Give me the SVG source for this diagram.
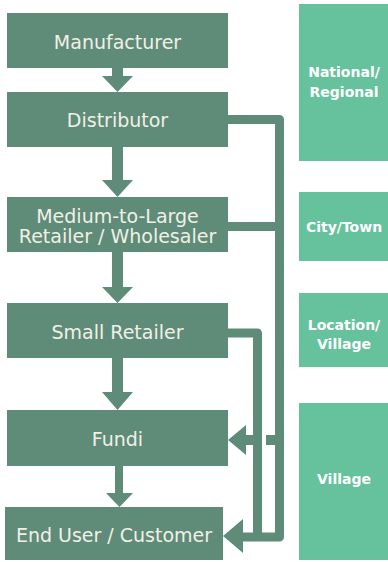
<svg xmlns="http://www.w3.org/2000/svg" width="388" height="562" viewBox="0 0 388 562">
<style>
.node{fill:#5E8C78}
.lvl{fill:#66C29D}
.t{font-family:"DejaVu Sans",sans-serif;font-size:19px;fill:#F2F0E6;text-anchor:middle}
.lt{font-family:"DejaVu Sans",sans-serif;font-weight:bold;font-size:14px;fill:#FFFFFF;text-anchor:middle}
.c{fill:#5E8C78}
.line{fill:none;stroke:#5E8C78;stroke-width:9;stroke-linejoin:round}
</style>
<rect width="388" height="562" fill="#FFFFFF"/>
<g id="connectors">
  <polygon class="c" points="112,68 123,68 123,76 133,76 117.5,92 102,76 112,76"/>
  <polygon class="c" points="112,147 123,147 123,180 133,180 117.5,197 102,180 112,180"/>
  <polygon class="c" points="112,252 123,252 123,287 133,287 117.5,303 102,287 112,287"/>
  <polygon class="c" points="112,358 123,358 123,392 133,392 117.5,410 102,392 112,392"/>
  <polygon class="c" points="115,466 123,466 123,493 133,493 119.5,507 106,493 115,493"/>
  <path class="line" d="M228 119.5 H279.5 V537 H242"/>
  <path class="line" d="M228 226.5 H279.5"/>
  <path class="line" d="M228 333 H257.5 V537"/>
  <rect class="c" x="244" y="435" width="10" height="10"/>
  <rect class="c" x="266" y="435" width="10" height="10"/>
  <polygon class="c" points="228,440 246,425 246,455"/>
  <polygon class="c" points="223,536 243,519 243,553"/>
</g>
<g id="manufacturer"><rect class="node" x="7" y="13" width="221" height="55"/><text class="t" x="117.5" y="49">Manufacturer</text></g>
<g id="distributor"><rect class="node" x="7" y="92" width="221" height="55"/><text class="t" x="117.5" y="127">Distributor</text></g>
<g id="wholesaler"><rect class="node" x="7" y="197" width="221" height="55"/><text class="t" x="117.5" y="223">Medium-to-Large</text><text class="t" x="117.5" y="243">Retailer / Wholesaler</text></g>
<g id="small-retailer"><rect class="node" x="7" y="303" width="221" height="55"/><text class="t" x="117.5" y="339">Small Retailer</text></g>
<g id="fundi"><rect class="node" x="7" y="410" width="221" height="56"/><text class="t" x="117.5" y="446">Fundi</text></g>
<g id="end-user"><rect class="node" x="5" y="507" width="218" height="53"/><text class="t" x="114" y="542">End User / Customer</text></g>
<g id="level-national"><rect class="lvl" x="299" y="4" width="89" height="157"/><text class="lt" x="344" y="77">National/</text><text class="lt" x="344" y="97">Regional</text></g>
<g id="level-city"><rect class="lvl" x="299" y="192" width="89" height="69"/><text class="lt" x="344" y="232">City/Town</text></g>
<g id="level-location"><rect class="lvl" x="299" y="293" width="89" height="74"/><text class="lt" x="344" y="330">Location/</text><text class="lt" x="344" y="349">Village</text></g>
<g id="level-village"><rect class="lvl" x="299" y="403" width="89" height="157"/><text class="lt" x="344" y="484">Village</text></g>
</svg>
